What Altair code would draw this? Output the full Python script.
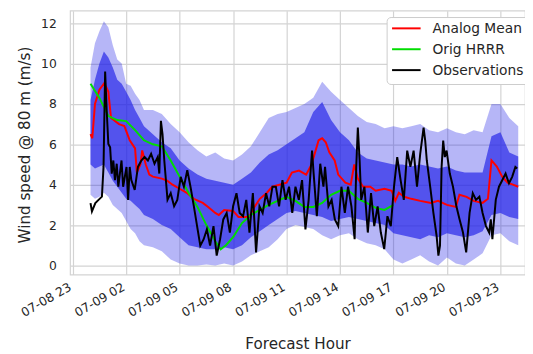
import altair as alt
import pandas as pd

# ---- data ----
band_hours = [0.0, 0.25, 0.5, 0.75, 1.0, 1.25, 1.5, 1.75, 2.0, 2.25, 2.5, 2.75, 3.0,
              3.5, 4.0, 4.5, 5.0, 5.5, 6.0, 6.5, 7.0, 7.5, 8.0, 8.5, 9.0, 9.5, 10.0,
              10.5, 11.0, 11.5, 12.0, 12.5, 13.0, 13.5, 14.0, 14.5, 15.0, 15.5, 16.0,
              16.5, 17.0, 17.5, 18.0, 18.5, 19.0, 19.5, 20.0, 20.5, 21.0, 21.5, 22.0,
              22.5, 23.0, 23.5, 24.0]
outer_hi = [9.8, 11.0, 11.6, 12.1, 11.8, 10.9, 10.2, 10.0, 9.0, 8.9, 8.5, 8.2, 7.7,
            7.7, 7.5, 7.0, 6.6, 6.1, 5.7, 5.4, 5.6, 5.3, 5.2, 5.5, 5.9, 6.6, 7.3,
            7.5, 7.6, 7.8, 8.0, 8.3, 9.1, 8.6, 8.2, 7.8, 7.4, 7.1, 7.0, 6.8, 6.9,
            6.8, 6.9, 7.0, 6.7, 6.6, 6.8, 6.6, 6.5, 6.7, 6.6, 8.0, 8.0, 7.3, 6.9]
inner_hi = [8.2, 9.2, 10.0, 10.6, 10.3, 9.8, 9.2, 9.0, 8.6, 8.2, 7.7, 7.3, 6.9,
            6.5, 6.1, 5.8, 5.2, 4.8, 4.5, 4.3, 4.2, 4.1, 4.0, 4.3, 4.6, 5.1, 5.5,
            5.7, 6.0, 6.3, 6.6, 7.6, 8.1, 7.2, 6.6, 6.2, 5.6, 5.3, 5.2, 5.1, 5.0,
            5.0, 4.9, 5.0, 4.9, 4.8, 4.9, 4.7, 4.6, 4.6, 4.6, 6.4, 6.6, 5.6, 5.4]
inner_lo = [5.0, 4.8, 4.9, 5.0, 4.6, 4.2, 3.9, 3.6, 3.3, 3.2, 3.0, 2.8, 2.5,
            2.3, 2.0, 1.8, 1.4, 1.0, 0.9, 0.8, 0.8, 0.9, 0.8, 1.0, 1.4, 1.7, 2.0,
            2.3, 2.6, 2.7, 2.6, 2.5, 2.4, 2.2, 2.3, 2.4, 2.3, 2.2, 2.1, 2.0, 1.6,
            1.5, 1.4, 1.3, 1.5, 1.4, 1.6, 1.5, 1.4, 1.5, 1.7, 2.5, 2.6, 2.4, 2.3]
outer_lo = [3.5, 3.3, 3.4, 3.6, 3.4, 3.0, 2.8, 2.6, 2.2, 1.8, 1.6, 1.2, 1.0,
            0.9, 0.7, 0.3, 0.1, 0.0, 0.0, 0.05, 0.0, 0.1, 0.0, 0.2, 0.5, 0.7, 0.9,
            1.3, 1.8, 2.0, 1.9, 1.8, 1.5, 1.3, 1.5, 1.6, 1.3, 1.1, 1.0, 0.8, 0.3,
            0.1, 0.3, 0.5, 0.2, 0.0, 0.4, 0.1, 0.0, 0.3, 0.6, 1.5, 1.6, 1.2, 1.0]

mean_hours = [0.0, 0.1, 0.25, 0.5, 0.75, 0.9, 1.0, 1.15, 1.3, 1.6, 1.9, 2.2, 2.5, 2.6,
              2.8, 2.9, 3.1, 3.3, 3.5, 4.0, 4.3, 4.6, 5.0, 5.4, 5.8, 6.3, 6.6, 7.0,
              7.2, 7.5, 8.0, 8.3, 8.9, 9.2, 9.5, 9.9, 10.2, 10.6, 11.0, 11.3, 11.7,
              12.1, 12.4, 12.8, 13.0, 13.2, 13.4, 13.7, 13.9, 14.3, 14.6, 14.8, 15.0,
              15.3, 15.7, 16.0, 16.5, 16.9, 17.1, 17.3, 17.6, 18.0, 18.5, 19.1, 19.5,
              20.0, 20.5, 20.7, 21.1, 21.5, 22.0, 22.3, 22.5, 22.8, 23.1, 23.4, 23.7, 24.0]
mean_speed = [6.5, 6.3, 8.0, 8.7, 9.0, 8.8, 8.6, 7.3, 7.2, 7.0, 6.9, 6.2, 5.8, 4.6,
              5.0, 5.7, 5.0, 4.5, 4.4, 4.3, 4.2, 4.0, 3.8, 3.6, 3.3, 3.1, 2.9, 2.6,
              2.5, 2.75, 2.7, 2.4, 2.4, 2.9, 3.3, 3.6, 3.9, 4.0, 4.1, 4.6, 4.7,
              4.5, 5.0, 6.2, 6.3, 6.1, 5.6, 5.2, 4.5, 4.1, 4.0, 5.0, 4.3,
              3.9, 3.9, 3.7, 3.8, 3.7, 3.2, 3.6, 3.4, 3.3, 3.2, 3.1, 3.2,
              3.0, 2.9, 3.5, 3.4, 3.2, 3.1, 3.3, 5.2, 4.9, 4.4, 4.1, 4.0, 3.9]

hrrr_hours = [0.0, 0.5, 1.0, 1.5, 2.0, 2.5, 3.0, 3.5, 4.0, 4.5, 5.0, 5.5, 6.0, 6.5, 7.0,
              7.3, 7.6, 8.0, 8.5, 9.0, 9.5, 10.0, 10.5, 11.0, 11.5, 12.0, 12.5, 13.0,
              13.5, 14.0, 14.5, 15.0, 15.5, 16.0, 16.5, 17.0]
hrrr_speed = [9.0, 8.3, 7.4, 7.2, 7.15, 6.7, 6.2, 6.0, 5.9, 5.2, 4.4, 3.6, 2.9, 2.0, 1.2,
              0.8, 1.0, 1.4, 2.1, 2.5, 2.75, 3.0, 3.2, 3.4, 3.2, 2.9, 2.9, 3.1,
              3.5, 3.7, 3.7, 3.3, 3.1, 2.85, 2.75, 3.0]

obs_hours = [0.0, 0.08, 0.27, 0.45, 0.64, 0.73, 0.82, 0.91, 1.0, 1.1, 1.19, 1.28, 1.37,
             1.47, 1.56, 1.74, 1.83, 2.02, 2.11, 2.2, 2.29, 2.48, 2.66, 2.85, 3.03,
             3.22, 3.4, 3.59, 3.77, 3.86, 3.95, 4.04, 4.14, 4.32, 4.5, 4.69, 4.87,
             5.06, 5.24, 5.43, 5.61, 5.8, 5.98, 6.16, 6.35, 6.53, 6.71, 6.9, 7.08,
             7.27, 7.45, 7.64, 7.82, 8.0, 8.19, 8.37, 8.56, 8.74, 8.92, 9.11, 9.29,
             9.48, 9.66, 9.85, 10.03, 10.21, 10.4, 10.58, 10.77, 10.95, 11.14, 11.32,
             11.5, 11.69, 11.87, 12.06, 12.24, 12.43, 12.52, 12.7, 12.89, 13.07, 13.16,
             13.35, 13.53, 13.71, 13.9, 14.08, 14.27, 14.45, 14.64, 14.82, 14.91, 15.0,
             15.1, 15.19, 15.37, 15.56, 15.74, 15.92, 16.11, 16.29, 16.48, 16.66,
             16.85, 17.03, 17.21, 17.4, 17.58, 17.77, 17.95, 18.13, 18.32, 18.5,
             18.69, 18.78, 18.87, 19.06, 19.24, 19.42, 19.52, 19.61, 19.7, 19.79,
             19.88, 19.98, 20.16, 20.34, 20.53, 20.71, 20.9, 21.08, 21.27, 21.45,
             21.63, 21.82, 22.0, 22.19, 22.37, 22.46, 22.55, 22.74, 22.92, 23.11,
             23.29, 23.48, 23.66, 23.84, 23.94]
obs_speed = [3.09, 2.68, 3.09, 3.25, 3.41, 4.88, 9.6, 7.64, 6.02, 5.85, 4.55, 5.2, 4.23,
             5.04, 3.9, 5.2, 3.9, 4.88, 3.25, 4.88, 4.23, 3.74, 4.88, 5.2, 5.37,
             5.2, 5.53, 5.04, 5.37, 4.55, 7.16, 6.5, 5.2, 3.25, 3.58, 2.93, 3.25,
             4.39, 3.9, 4.72, 3.9, 2.93, 1.95, 0.98, 1.3, 1.79, 0.98, 1.95, 0.49,
             1.3, 2.28, 2.6, 1.63, 2.93, 3.58, 2.6, 2.44, 3.25, 1.63, 3.58, 0.65,
             2.93, 2.6, 3.58, 2.93, 3.9, 3.9, 2.93, 4.23, 3.25, 3.9, 2.6,
             3.9, 3.25, 4.23, 1.79, 3.25, 5.69, 4.55, 2.44, 5.04, 3.9, 4.88,
             2.93, 3.25, 2.28, 1.95, 3.9, 2.6, 3.9, 2.93, 1.3, 4.88, 6.83,
             5.2, 3.25, 3.9, 1.63, 3.58, 1.95, 2.93, 1.63, 0.81, 2.44,
             1.95, 3.9, 5.37, 4.23, 3.25, 5.69, 4.88, 5.69, 3.9, 5.53,
             6.83, 6.18, 5.2, 3.9, 2.6, 1.46, 0.49, 0.98, 4.88, 6.18,
             5.37, 5.69, 4.55, 3.9, 2.93, 2.28, 1.63, 0.65, 2.6, 3.58,
             3.25, 3.41, 2.6, 1.95, 1.63, 2.28, 1.3, 3.25, 3.9, 4.23,
             4.55, 4.07, 4.39, 4.88, 4.8]

series_names = ["Analog Mean", "Orig HRRR", "Observations"]
series_colors = ["#ff0000", "#00dd00", "#000000"]

tick_hours = [-1, 2, 5, 8, 11, 14, 17, 20, 23]
tick_labels = ["07-08 23", "07-09 02", "07-09 05", "07-09 08", "07-09 11",
               "07-09 14", "07-09 17", "07-09 20", "07-09 23"]
y_ticks = [0, 2, 4, 6, 8, 10, 12]

# ---- tables ----
bands = pd.DataFrame({"hour": band_hours, "olo": outer_lo, "ilo": inner_lo,
                      "ihi": inner_hi, "ohi": outer_hi})
lines = pd.concat([
    pd.DataFrame({"hour": mean_hours, "speed": mean_speed, "series": series_names[0]}),
    pd.DataFrame({"hour": hrrr_hours, "speed": hrrr_speed, "series": series_names[1]}),
    pd.DataFrame({"hour": obs_hours, "speed": obs_speed, "series": series_names[2]}),
], ignore_index=True)

FONT = "DejaVu Sans"
TXT = "#262626"
GRID = "#d3d3d3"

label_expr = "{}[indexof({}, datum.value)]".format(
    "[" + ",".join("'%s'" % t for t in tick_labels) + "]",
    "[" + ",".join(str(v) for v in tick_hours) + "]")

x_scale = alt.Scale(domain=[-1.149, 24.38], nice=False, zero=False)
y_scale = alt.Scale(domain=[-0.45, 12.62], nice=False, zero=False)

x_axis = alt.Axis(values=tick_hours, labelExpr=label_expr, labelAngle=-30,
                  labelAlign="right", labelBaseline="top", labelPadding=6,
                  labelOffset=-6,
                  labelFlush=False, labelOverlap=False, labelBound=False,
                  labelFontSize=12.5, labelFont=FONT, labelColor=TXT,
                  ticks=False, domain=False, gridColor=GRID, gridWidth=1.2,
                  title="Forecast Hour", titleFont=FONT, titleFontSize=15.4,
                  titleFontWeight="normal", titleColor=TXT,
                  titleX=231, titleY=75.5, titleBaseline="alphabetic",
                  titleAlign="center")
y_axis = alt.Axis(values=y_ticks, labelFontSize=12.5, labelFont=FONT,
                  labelColor=TXT, labelPadding=14, ticks=False, domain=False,
                  gridColor=GRID, gridWidth=1.2,
                  title="Wind speed @ 80 m (m/s)", titleFont=FONT,
                  titleFontSize=15.4, titleFontWeight="normal", titleColor=TXT,
                  titleX=-41, titleY=136, titleBaseline="alphabetic",
                  titleAlign="center", titleAngle=-90)

BAND_BLUE = "#2020e8"
base_b = alt.Chart(bands)
outer = base_b.mark_area(color=BAND_BLUE, opacity=0.33).encode(
    x=alt.X("hour:Q", scale=x_scale, axis=x_axis),
    y=alt.Y("olo:Q", scale=y_scale, axis=y_axis),
    y2="ohi:Q")
inner = base_b.mark_area(color=BAND_BLUE, opacity=0.66).encode(
    x=alt.X("hour:Q", scale=x_scale),
    y=alt.Y("ilo:Q", scale=y_scale),
    y2="ihi:Q")

color = alt.Color("series:N",
                  scale=alt.Scale(domain=series_names, range=series_colors),
                  legend=None)

layers = [outer, inner]
for name in series_names:
    layers.append(
        alt.Chart(lines).transform_filter(alt.datum.series == name)
        .mark_line(strokeWidth=2)
        .encode(x=alt.X("hour:Q", scale=x_scale),
                y=alt.Y("speed:Q", scale=y_scale),
                color=color)
    )

# ---- legend box (drawn in pixel space, as matplotlib's legend) ----
one = pd.DataFrame({"k": [0]})
layers.append(
    alt.Chart(one).mark_rect(fill="white", stroke="#cccccc", strokeWidth=1,
                             cornerRadius=4)
    .encode(x=alt.value(322), x2=alt.value(480), y=alt.value(7), y2=alt.value(75))
)
for i, (name, col) in enumerate(zip(series_names, series_colors)):
    yy = 18 + 21.2 * i
    layers.append(
        alt.Chart(one).mark_rule(color=col, strokeWidth=2)
        .encode(x=alt.value(327), x2=alt.value(356), y=alt.value(yy))
    )
    layers.append(
        alt.Chart(one).mark_text(align="left", baseline="middle", font=FONT,
                                 fontSize=14, color=TXT)
        .encode(x=alt.value(368), y=alt.value(yy + 0.5), text=alt.value(name))
    )

chart = alt.layer(*layers).properties(
    width=462, height=268,
    autosize=alt.AutoSizeParams(type="none"),
    padding={"left": 63, "top": 0, "right": 0, "bottom": 78},
    background="white",
).configure_view(stroke=GRID, strokeWidth=1.2)

chart.save("out.html", embed_options={"renderer": "svg", "actions": False})
